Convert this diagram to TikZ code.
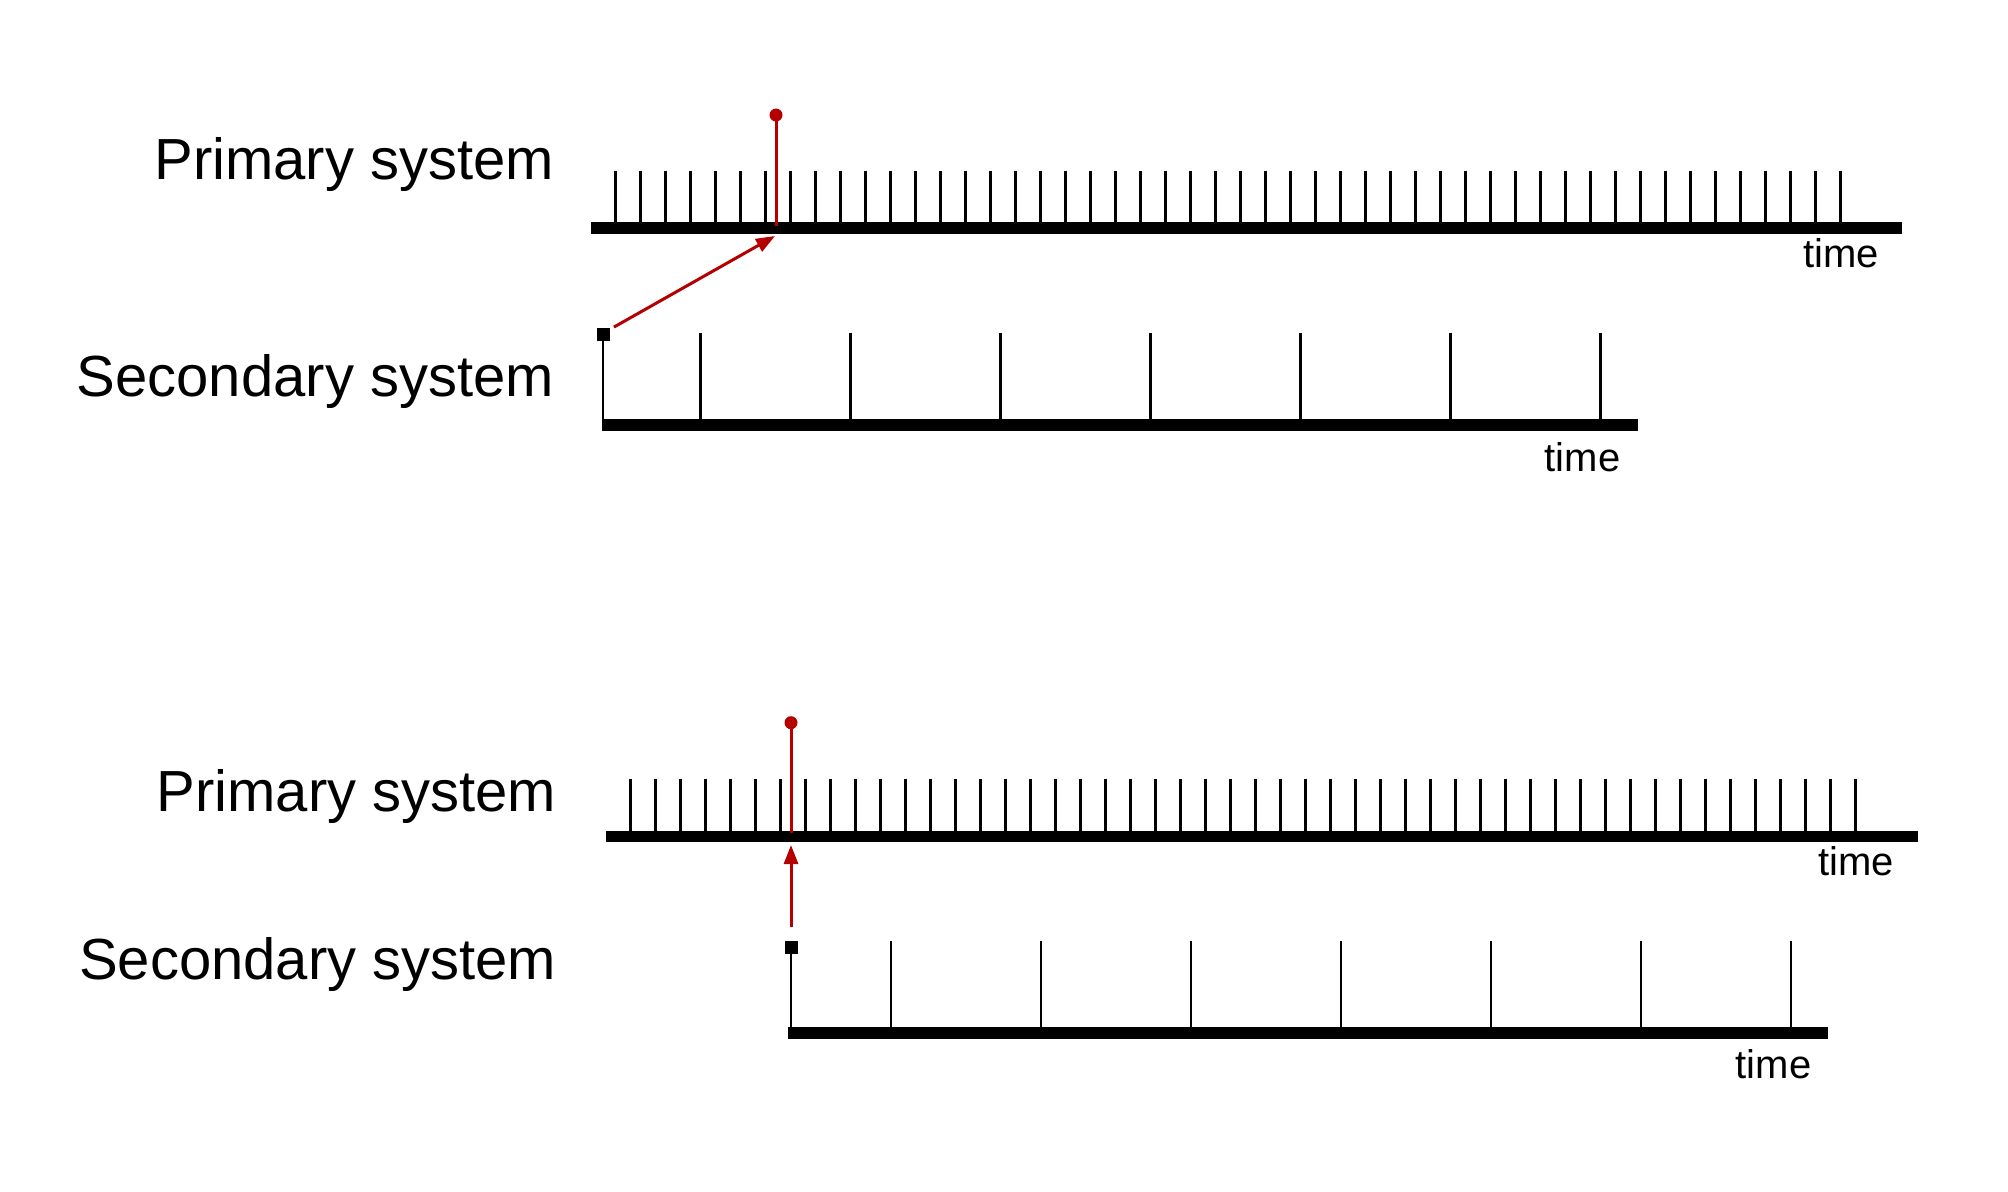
\documentclass[tikz,border=0pt]{standalone}
\usepackage{fontspec}
\setmainfont{Liberation Sans}
\usetikzlibrary{arrows.meta}
\definecolor{myred}{RGB}{180,0,0}
\begin{document}
\begin{tikzpicture}[x=0.5pt,y=-0.5pt,
  axisline/.style={line width=5.85pt},
  tickline/.style={line width=1.35pt},
  redline/.style={line width=1.5pt, draw=myred},
  lbl/.style={font=\fontsize{29pt}{34pt}\selectfont, anchor=base east, inner sep=0pt},
  tlbl/.style={font=\fontsize{20pt}{24pt}\selectfont, anchor=base east, inner sep=0pt},
  sq/.style={rectangle, fill=black, minimum size=6.5pt, inner sep=0pt, draw=none},
  dotn/.style={circle, fill=myred, minimum size=6.5pt, inner sep=0pt},
  arr/.style={-{Triangle[length=9.5pt,width=7pt]}, line width=1.5pt, draw=myred}
]
\useasboundingbox (0,0) rectangle (2008,1191);
% ---------- top panel ----------
\node[lbl] (p1) at (554.3,179) {Primary system};
\node[lbl] (s1) at (554.3,396.7) {Secondary system};
% primary axis
\coordinate (pa1s) at (590.7,228);
\coordinate (pa1e) at (1902.3,228);
\draw[axisline] (pa1s) -- (pa1e);
\foreach \k in {0,...,49} \draw[tickline] (615.7+25*\k,170.7) -- (615.7+25*\k,228);
\node[tlbl] (tp1) at (1879.3,267.7) {time};
% red marker
\coordinate (r1) at (776,226);
\draw[redline] (776,115) -- (r1);
\node[dotn] (d1) at (776,115) {};
% secondary axis
\coordinate (sa1s) at (604,425);
\coordinate (sa1e) at (1637.7,425);
\draw[axisline] (sa1s) -- (sa1e);
\node[sq] (q1) at (603,334) {};
\coordinate (q1b) at (603,431);
\draw[tickline] (q1.center) -- (q1b);
\foreach \k in {0,...,6} \draw[tickline] (700.7+150*\k,332.7) -- (700.7+150*\k,425);
\node[tlbl] (ts1) at (1620.7,471.7) {time};
% arrow
\coordinate (t1) at (775,236);
\draw[arr] ([shift={(4,0)}]q1.north east) -- (t1);
% ---------- bottom panel ----------
\node[lbl] (p2) at (556.7,811) {Primary system};
\node[lbl] (s2) at (556.7,979.3) {Secondary system};
\coordinate (pa2s) at (606,836.5);
\coordinate (pa2e) at (1917.7,836.5);
\draw[axisline] (pa2s) -- (pa2e);
\foreach \k in {0,...,49} \draw[tickline] (630.7+25*\k,778.7) -- (630.7+25*\k,836.5);
\node[tlbl] (tp2) at (1894.3,875.7) {time};
\coordinate (r2) at (791,833);
\draw[redline] (791,722.7) -- (r2);
\node[dotn] (d2) at (791,722.7) {};
\coordinate (sa2s) at (788.3,1033);
\coordinate (sa2e) at (1828.3,1033);
\draw[axisline] (sa2s) -- (sa2e);
\node[sq] (q2) at (791,947.5) {};
\coordinate (q2b) at (791,1039);
\draw[tickline] (q2.center) -- (q2b);
\foreach \k in {0,...,6} \draw[tickline] (891+150*\k,941) -- (891+150*\k,1033);
\node[tlbl] (ts2) at (1811.7,1078.3) {time};
\coordinate (t2) at (791,845);
\draw[arr] ([shift={(0,-14)}]q2.north) -- (t2);
\end{tikzpicture}
\end{document}
